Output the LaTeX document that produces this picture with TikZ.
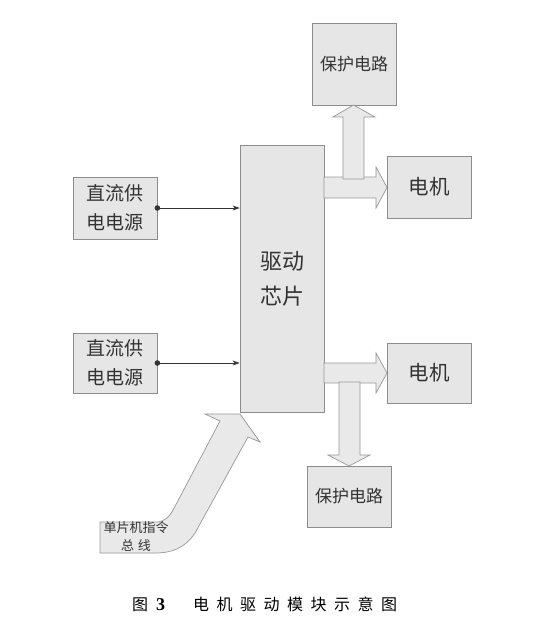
\documentclass[tikz,border=0pt]{standalone}
\usepackage{fontspec}
\setmainfont{Noto Sans CJK SC}
\newfontfamily\latinserif{Liberation Serif}
\usetikzlibrary{arrows.meta}
\definecolor{boxfill}{HTML}{E6E6E6}
\definecolor{boxline}{HTML}{8C8C8C}
\definecolor{arrfill}{HTML}{E9E9E9}
\definecolor{txt}{HTML}{333333}
\tikzset{
  blk/.style={draw=boxline,fill=boxfill,line width=0.8pt,inner sep=0pt,text=txt,align=center},
  blockarrow/.style={draw=boxline!90,fill=arrfill,line width=0.7pt,line join=miter},
  conn/.style={draw=txt,line width=0.6pt,-{Stealth[length=7pt,width=5pt]}},
}
\begin{document}
\begin{tikzpicture}[x=1pt,y=-1pt]
\useasboundingbox (0,0) rectangle (559,623);
% boxes
\node[blk,minimum width=84pt,minimum height=267pt,font=\fontsize{22}{35}\selectfont] (chip) at (282,279) {驱动\\芯片};
\node[blk,minimum width=84pt,minimum height=82pt,font=\fontsize{17}{20}\selectfont] (prot1) at (354,64) {保护电路};
\node[blk,minimum width=84pt,minimum height=62pt,font=\fontsize{20.5}{24}\selectfont] (mot1) at (429,187) {电机};
\node[blk,minimum width=84pt,minimum height=62pt,font=\fontsize{19}{29}\selectfont] (dc1) at (115,208) {直流供\\电电源};
\node[blk,minimum width=84pt,minimum height=60pt,font=\fontsize{19}{29}\selectfont] (dc2) at (115,363) {直流供\\电电源};
\node[blk,minimum width=84pt,minimum height=60pt,font=\fontsize{20.5}{24}\selectfont] (mot2) at (429,373) {电机};
\node[blk,minimum width=84pt,minimum height=61pt,font=\fontsize{17}{20}\selectfont] (prot2) at (349,496.5) {保护电路};
% connectors from supplies
\draw[conn] (dc1.east) -- (dc1.east -| chip.west);
\fill[txt] (dc1.east) circle[radius=2.8pt];
\draw[conn] (dc2.east) -- (dc2.east -| chip.west);
\fill[txt] (dc2.east) circle[radius=2.8pt];
% top block arrows
\path[blockarrow] (324,177) -- (376,177) -- (376,167) -- (387,187.5) -- (376,208) -- (376,198) -- (324,198) -- cycle;
\path[blockarrow] (343,179) -- (343,117) -- (333,117) -- (353.5,105) -- (375,117) -- (364,117) -- (364,179) -- cycle;
% bottom block arrows
\path[blockarrow] (324,363) -- (376,363) -- (376,353) -- (387,373) -- (376,393) -- (376,383) -- (324,383) -- cycle;
\path[blockarrow] (339,382) -- (360,382) -- (360,455) -- (370,455) -- (349,466) -- (328,455) -- (339,455) -- cycle;
% bus arrow
\path[blockarrow] (100,522) -- (158,522) .. controls (164,521) and (168,518) .. (172,512) -- (220,421) -- (205,414) -- (240,414) -- (260,442) -- (248,437) -- (195,533) .. controls (185,548) and (172,553) .. (155,553) -- (100,553) -- cycle;
\node[text=txt,font=\fontsize{13}{18}\selectfont,align=center,inner sep=0pt] (bus) at (136,537) {单片机指令\\总\hspace{4pt}线};
% caption
\node[text=black,font=\fontsize{16}{20}\selectfont,anchor=west,inner sep=0pt] (cap) at (132,604) {图\hspace{8pt}{\latinserif\bfseries\fontsize{18}{20}\selectfont 3}\hspace{28pt}电\hspace{7.5pt}机\hspace{7.5pt}驱\hspace{7.5pt}动\hspace{7.5pt}模\hspace{7.5pt}块\hspace{7.5pt}示\hspace{7.5pt}意\hspace{7.5pt}图};
\end{tikzpicture}
\end{document}
